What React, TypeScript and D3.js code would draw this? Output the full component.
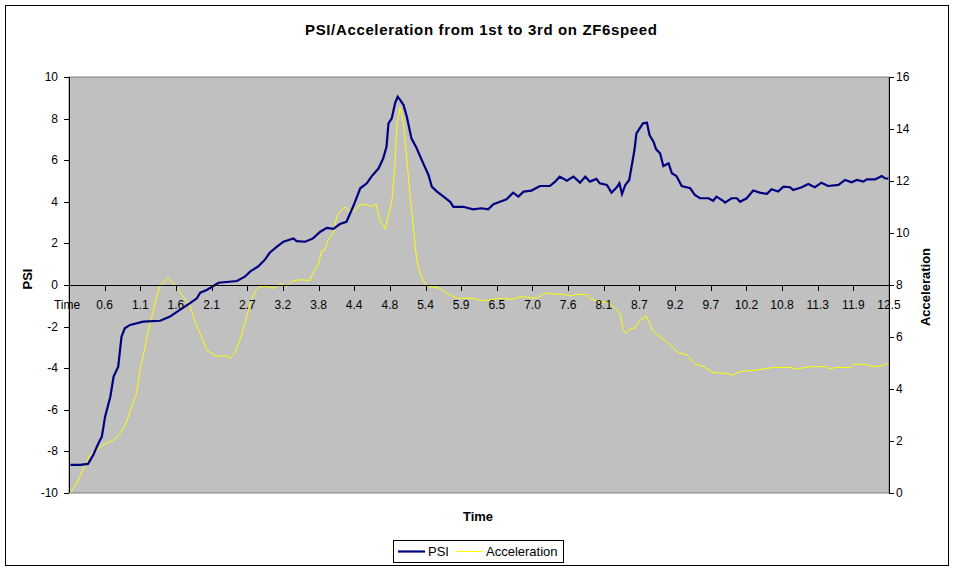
import React from "react";
import * as d3 from "d3";

const title = "PSI/Acceleration from 1st to 3rd on ZF6speed";
const xTickLabels = ["Time","0.6","1.1","1.6","2.1","2.7","3.2","3.8","4.4","4.8","5.4","5.9","6.5","7.0","7.6","8.1","8.7","9.2","9.7","10.2","10.8","11.3","11.9","12.5"];
const psiTicks = [-10,-8,-6,-4,-2,0,2,4,6,8,10];
const accTicks = [0,2,4,6,8,10,12,14,16];

const psiTime = [0.02,0.17,0.29,0.37,0.45,0.50,0.55,0.63,0.68,0.75,0.80,0.85,0.93,1.13,1.39,1.54,1.69,1.84,1.95,2.00,2.10,2.20,2.28,2.56,2.68,2.76,2.89,2.99,3.06,3.17,3.27,3.42,3.47,3.60,3.72,3.83,3.93,4.03,4.13,4.23,4.33,4.44,4.54,4.61,4.72,4.79,4.84,4.87,4.92,4.97,5.01,5.05,5.10,5.15,5.22,5.30,5.40,5.48,5.53,5.61,5.71,5.81,5.86,6.01,6.16,6.29,6.39,6.47,6.57,6.67,6.77,6.85,6.93,7.05,7.18,7.33,7.41,7.48,7.59,7.69,7.79,7.87,7.94,8.04,8.09,8.20,8.27,8.35,8.39,8.43,8.48,8.54,8.58,8.62,8.65,8.70,8.75,8.81,8.85,8.91,8.95,9.01,9.06,9.14,9.19,9.26,9.34,9.47,9.54,9.62,9.75,9.82,9.87,9.97,10.00,10.10,10.18,10.23,10.33,10.43,10.53,10.64,10.71,10.81,10.89,10.99,11.04,11.17,11.27,11.37,11.47,11.57,11.73,11.83,11.93,12.01,12.11,12.16,12.29,12.39,12.44,12.49];
const psiValues = [-8.65,-8.65,-8.6,-8.17,-7.6,-7.3,-6.33,-5.37,-4.4,-3.93,-2.49,-2.08,-1.92,-1.76,-1.72,-1.52,-1.2,-0.88,-0.64,-0.37,-0.24,-0.05,0.11,0.19,0.4,0.64,0.91,1.23,1.55,1.84,2.08,2.24,2.11,2.08,2.24,2.56,2.75,2.7,2.93,3.04,3.76,4.65,4.89,5.21,5.61,6.09,6.65,7.77,8.01,8.73,9.05,8.89,8.65,8.09,7.05,6.57,5.85,5.29,4.73,4.49,4.25,4.0,3.76,3.76,3.64,3.69,3.64,3.88,4.0,4.12,4.44,4.25,4.49,4.54,4.76,4.76,4.97,5.21,5.01,5.21,4.92,5.21,4.97,5.1,4.89,4.81,4.44,4.7,4.89,4.38,4.81,5.05,5.77,6.49,7.29,7.53,7.77,7.8,7.21,6.89,6.52,6.33,5.72,5.85,5.37,5.24,4.76,4.65,4.33,4.17,4.17,4.05,4.25,4.05,3.96,4.17,4.17,4.0,4.17,4.54,4.44,4.38,4.6,4.49,4.73,4.7,4.57,4.7,4.86,4.7,4.92,4.76,4.81,5.05,4.94,5.05,4.97,5.08,5.08,5.24,5.13,5.11];

const accTime = [0.02,0.12,0.22,0.32,0.42,0.52,0.68,0.78,0.88,0.96,1.03,1.08,1.13,1.19,1.26,1.33,1.39,1.44,1.51,1.59,1.67,1.74,1.84,1.92,2.02,2.10,2.23,2.40,2.45,2.53,2.63,2.71,2.76,2.84,2.91,3.01,3.11,3.22,3.32,3.42,3.52,3.67,3.72,3.80,3.85,3.90,3.95,4.03,4.08,4.13,4.21,4.28,4.36,4.44,4.54,4.61,4.68,4.74,4.82,4.87,4.92,4.97,5.00,5.05,5.10,5.15,5.20,5.25,5.30,5.35,5.43,5.50,5.66,5.76,5.91,6.16,6.27,6.42,6.52,6.77,6.88,6.98,7.13,7.21,7.28,7.38,7.54,7.64,7.74,7.89,7.94,8.07,8.20,8.27,8.40,8.45,8.49,8.55,8.63,8.70,8.80,8.83,8.91,9.01,9.14,9.29,9.42,9.54,9.67,9.82,10.03,10.10,10.23,10.48,10.74,10.99,11.09,11.30,11.55,11.60,11.70,11.91,11.96,12.13,12.26,12.36,12.46,12.49];
const accValues = [0.01,0.37,0.95,1.46,1.65,1.85,2.04,2.29,2.74,3.38,3.83,4.73,5.24,6.01,6.78,7.49,8.0,8.09,8.26,8.06,7.81,7.55,7.23,6.59,6.01,5.5,5.27,5.27,5.18,5.37,6.08,6.78,7.3,7.78,7.94,7.96,7.87,8.05,7.94,8.17,8.2,8.18,8.45,8.77,9.32,9.35,9.73,9.99,10.63,10.82,11.01,10.82,10.88,11.1,11.08,11.01,11.12,10.5,10.15,10.69,11.2,12.68,14.22,14.83,14.22,12.81,11.4,10.24,8.96,8.45,8.04,7.94,7.87,7.68,7.49,7.49,7.4,7.42,7.49,7.45,7.55,7.53,7.49,7.62,7.7,7.65,7.64,7.58,7.64,7.64,7.49,7.36,7.34,7.23,6.91,6.27,6.14,6.3,6.36,6.63,6.81,6.65,6.2,6.01,5.76,5.4,5.31,4.96,4.86,4.63,4.6,4.53,4.67,4.73,4.83,4.83,4.77,4.86,4.86,4.78,4.83,4.83,4.95,4.95,4.86,4.88,4.96,5.0];

const W = 955, H = 573;
const L = 69, R = 889, T = 77, B = 493;
const font = "'Liberation Sans', Arial, sans-serif";

export default function App() {
  const xTime = d3.scaleLinear().domain([0, 12.5]).range([L, R]);
  const xCat = d3.scalePoint<string>().domain(xTickLabels).range([L, R]);
  const yPsi = d3.scaleLinear().domain([-10, 10]).range([B, T]);
  const yAcc = d3.scaleLinear().domain([0, 16]).range([B, T]);

  const psiData = psiTime.map((t, i) => [t, psiValues[i]] as [number, number]);
  const accData = accTime.map((t, i) => [t, accValues[i]] as [number, number]);
  const psiLine = d3.line<[number, number]>().x(d => xTime(d[0])).y(d => yPsi(d[1]))(psiData) || "";
  const accLine = d3.line<[number, number]>().x(d => xTime(d[0])).y(d => yAcc(d[1]))(accData) || "";
  const y0 = yPsi(0);

  return (
    <svg width={W} height={H} style={{ position: "absolute", left: 0, top: 0 }} fontFamily={font}>
      <rect x={0} y={0} width={W} height={H} fill="#fff" />
      <rect x={5.5} y={5.5} width={943} height={560} fill="#fff" stroke="#000" strokeWidth={1} />
      <text x={481} y={35} textAnchor="middle" fontSize={15} fontWeight="bold" textLength={352} lengthAdjust="spacing">{title}</text>

      <rect x={L} y={T} width={R - L} height={B - T} fill="#C0C0C0" stroke="#808080" strokeWidth={1} />

      <clipPath id="plotclip"><rect x={L} y={T - 2} width={R - L} height={B - T + 4} /></clipPath>
      <g clipPath="url(#plotclip)">
        <path d={accLine} fill="none" stroke="#FFFF00" strokeWidth={1} />
        <path d={psiLine} fill="none" stroke="#000080" strokeWidth={2.2} strokeLinejoin="miter" />
      </g>

      {/* category axis at PSI = 0 */}
      <line x1={L} x2={R} y1={y0 + 0.5} y2={y0 + 0.5} stroke="#000" />
      {xTickLabels.map(lab => (
        <g key={lab}>
          <line x1={Math.round(xCat(lab)!) + 0.5} x2={Math.round(xCat(lab)!) + 0.5} y1={y0} y2={y0 + 6} stroke="#000" />
          <text x={xCat(lab)! + (lab === "Time" ? -2 : 0)} y={y0 + 24} textAnchor="middle" fontSize={12}>{lab}</text>
        </g>
      ))}

      {/* left axis */}
      <line x1={L + 0.5} x2={L + 0.5} y1={T} y2={B} stroke="#000" />
      {psiTicks.map(v => (
        <g key={"p" + v}>
          <line x1={L - 5} x2={L} y1={Math.round(yPsi(v)) + 0.5} y2={Math.round(yPsi(v)) + 0.5} stroke="#000" />
          <text x={58} y={yPsi(v) + 4} textAnchor="end" fontSize={12}>{v}</text>
        </g>
      ))}
      <text transform={`translate(32,279) rotate(-90)`} textAnchor="middle" fontSize={13} fontWeight="bold">PSI</text>

      {/* right axis */}
      <line x1={R + 0.5} x2={R + 0.5} y1={T} y2={B} stroke="#000" />
      {accTicks.map(v => (
        <g key={"a" + v}>
          <line x1={R} x2={R + 5} y1={Math.round(yAcc(v)) + 0.5} y2={Math.round(yAcc(v)) + 0.5} stroke="#000" />
          <text x={896} y={yAcc(v) + 4} textAnchor="start" fontSize={12}>{v}</text>
        </g>
      ))}
      <text transform={`translate(930,287) rotate(-90)`} textAnchor="middle" fontSize={13} fontWeight="bold">Acceleration</text>

      <text x={478} y={521} textAnchor="middle" fontSize={13} fontWeight="bold">Time</text>

      {/* legend */}
      <rect x={393.5} y={540.5} width={170} height={22} fill="#fff" stroke="#000" />
      <line x1={398} x2={425} y1={551.5} y2={551.5} stroke="#000080" strokeWidth={2.2} />
      <text x={428} y={556} fontSize={13}>PSI</text>
      <line x1={456} x2={483} y1={551.5} y2={551.5} stroke="#FFFF00" strokeWidth={1} />
      <text x={486} y={556} fontSize={13}>Acceleration</text>
    </svg>
  );
}
